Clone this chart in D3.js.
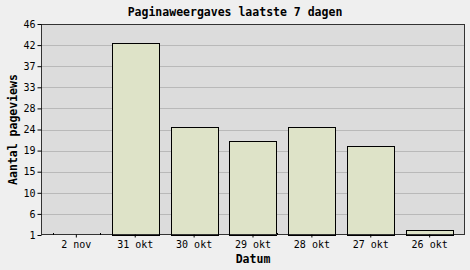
<!DOCTYPE html>
<html>
<head>
<meta charset="utf-8">
<script src="https://cdn.jsdelivr.net/npm/d3@7"></script>
<style>
  body { margin: 0; background: #efefef; }
  text { font-family: "DejaVu Sans Mono", monospace; fill: #000; }
</style>
</head>
<body>
<div id="chart"></div>
<script>
// data
var categories = ["2 nov", "31 okt", "30 okt", "29 okt", "28 okt", "27 okt", "26 okt"];
var pageviews = [0, 42, 24, 21, 24, 20, 2];
var yTickValues = [1, 5.5, 10, 14.5, 19, 23.5, 28, 32.5, 37, 41.5, 46];
var yTickLabels = ["1", "6", "10", "15", "19", "24", "28", "33", "37", "42", "46"];

// chart geometry
var outerWidth = 470,
    outerHeight = 270,
    plot = {left: 41, right: 465, top: 24, bottom: 235};

var svg = d3.select("#chart").append("svg")
    .attr("width", outerWidth)
    .attr("height", outerHeight);

svg.append("rect")
    .attr("width", outerWidth)
    .attr("height", outerHeight)
    .attr("fill", "#efefef");

var x = d3.scaleBand()
    .domain(categories)
    .range([plot.left, plot.right])
    .paddingInner(0.2)
    .paddingOuter(0.2);

var y = d3.scaleLinear()
    .domain([1, 46])
    .range([plot.bottom, plot.top]);

// plot background
svg.append("rect")
    .attr("x", plot.left)
    .attr("y", plot.top)
    .attr("width", plot.right - plot.left)
    .attr("height", plot.bottom - plot.top)
    .attr("fill", "#dcdcdc");

// grid lines
svg.append("g").selectAll("line")
    .data(yTickValues.slice(1, -1))
    .enter().append("line")
    .attr("x1", plot.left)
    .attr("x2", plot.right)
    .attr("y1", function (d) { return Math.round(y(d)) + 0.5; })
    .attr("y2", function (d) { return Math.round(y(d)) + 0.5; })
    .attr("stroke", "#b9b9b9")
    .attr("stroke-width", 1);

// bars
svg.append("g").selectAll("rect")
    .data(pageviews.map(function (v, i) { return {cat: categories[i], v: v}; })
        .filter(function (d) { return d.v > 1; }))
    .enter().append("rect")
    .attr("x", function (d) { return Math.round(x(d.cat)) + 0.5; })
    .attr("y", function (d) { return Math.round(y(d.v)) + 0.5; })
    .attr("width", function (d) { return Math.round(x.bandwidth()); })
    .attr("height", function (d) { return Math.round(y(1)) - Math.round(y(d.v)); })
    .attr("fill", "#dee3c8")
    .attr("stroke", "#000")
    .attr("stroke-width", 1);

// frame
svg.append("rect")
    .attr("x", plot.left + 0.5)
    .attr("y", plot.top + 0.5)
    .attr("width", plot.right - plot.left - 1)
    .attr("height", plot.bottom - plot.top - 1)
    .attr("fill", "none")
    .attr("stroke", "#333")
    .attr("stroke-width", 1);

// y axis
var yAxis = d3.axisLeft(y)
    .tickValues(yTickValues)
    .tickSize(4)
    .tickPadding(2)
    .tickFormat(function (d, i) { return yTickLabels[i]; });

var gy = svg.append("g")
    .attr("transform", "translate(" + (plot.left + 0.5) + ",0)")
    .call(yAxis);
gy.select(".domain").remove();
gy.selectAll(".tick line").attr("stroke", "#000");
gy.selectAll(".tick text")
    .style("font-family", "'DejaVu Sans Mono', monospace")
    .style("font-size", "10px")
    .attr("fill", "#000");

// x axis
var xAxis = d3.axisBottom(x)
    .tickSize(3)
    .tickPadding(3);

var gx = svg.append("g")
    .attr("transform", "translate(0," + (plot.bottom - 0.5) + ")")
    .call(xAxis);
gx.select(".domain").remove();
gx.selectAll(".tick line").attr("stroke", "#000");
gx.selectAll(".tick text")
    .style("font-family", "'DejaVu Sans Mono', monospace")
    .style("font-size", "10px")
    .attr("fill", "#000");

// minor ticks at bar edges
var edges = [];
categories.forEach(function (c) { edges.push(x(c), x(c) + x.bandwidth()); });
svg.append("g").selectAll("line")
    .data(edges)
    .enter().append("line")
    .attr("x1", function (d) { return Math.round(d) + 0.5; })
    .attr("x2", function (d) { return Math.round(d) + 0.5; })
    .attr("y1", plot.bottom - 2)
    .attr("y2", plot.bottom)
    .attr("stroke", "#000");

// title
svg.append("text")
    .attr("x", outerWidth / 2)
    .attr("y", 16)
    .attr("text-anchor", "middle")
    .style("font-size", "11.5px")
    .style("font-weight", "bold")
    .text("Paginaweergaves laatste 7 dagen");

// axis titles
svg.append("text")
    .attr("x", (plot.left + plot.right) / 2)
    .attr("y", 263)
    .attr("text-anchor", "middle")
    .style("font-size", "11.5px")
    .style("font-weight", "bold")
    .text("Datum");

svg.append("text")
    .attr("transform", "translate(17," + ((plot.top + plot.bottom) / 2) + ") rotate(-90)")
    .attr("text-anchor", "middle")
    .style("font-size", "11.5px")
    .style("font-weight", "bold")
    .text("Aantal pageviews");
</script>
</body>
</html>
